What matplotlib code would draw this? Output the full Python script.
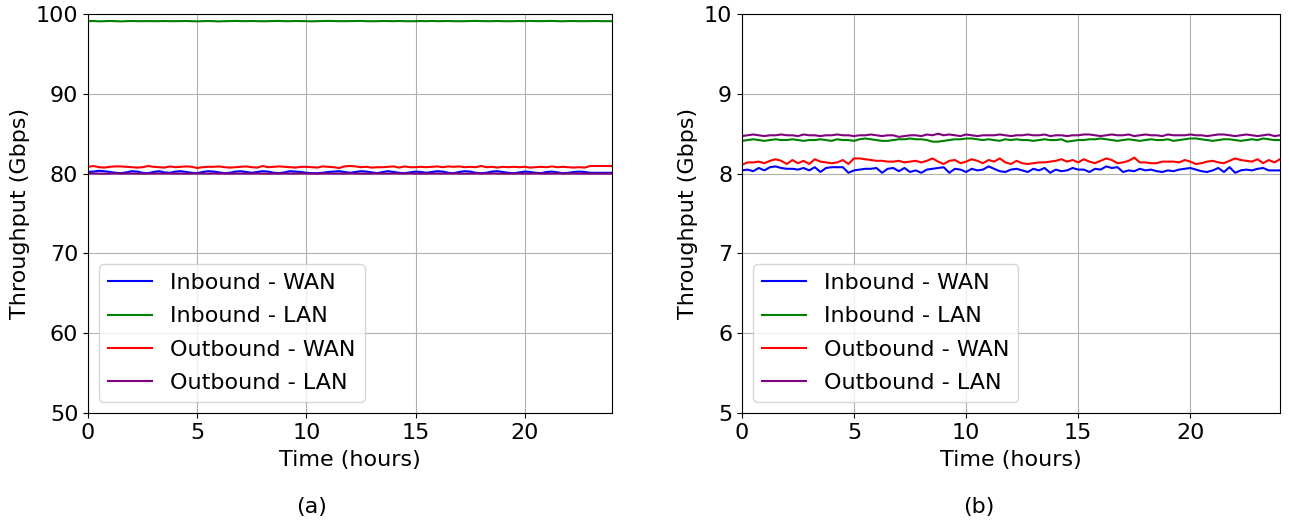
import matplotlib
matplotlib.use('Agg')
import matplotlib.pyplot as plt
import numpy as np

labels = ['Inbound - WAN', 'Inbound - LAN', 'Outbound - WAN', 'Outbound - LAN']
colors = ['blue', 'green', 'red', 'purple']

# (a) throughput, Gbps, sampled every 15 min over 24 h
a_in_wan = [80.2, 80.25, 80.35, 80.3, 80.2, 80.1, 80.05, 80.15, 80.3, 80.25, 80.1, 80.05, 80.2, 80.3, 80.15, 80.1,
            80.25, 80.3, 80.2, 80.1, 80.05, 80.2, 80.3, 80.25, 80.15, 80.05, 80.1, 80.25, 80.3, 80.2, 80.1, 80.2,
            80.3, 80.25, 80.1, 80.05, 80.15, 80.3, 80.25, 80.2, 80.1, 80.05, 80.05, 80.1, 80.2, 80.25, 80.3, 80.2,
            80.1, 80.2, 80.3, 80.25, 80.15, 80.05, 80.2, 80.3, 80.2, 80.1, 80.05, 80.15, 80.25, 80.2, 80.1, 80.2,
            80.3, 80.25, 80.1, 80.05, 80.2, 80.3, 80.25, 80.1, 80.05, 80.1, 80.25, 80.3, 80.2, 80.1, 80.05, 80.15,
            80.25, 80.2, 80.1, 80.05, 80.2, 80.25, 80.15, 80.05, 80.1, 80.2, 80.25, 80.2, 80.1, 80.1, 80.1, 80.1, 80.1]
a_in_lan = [99.1, 99.12, 99.08, 99.1, 99.13, 99.1, 99.07, 99.1, 99.12, 99.1, 99.1, 99.11, 99.1, 99.1, 99.12, 99.1,
            99.1, 99.11, 99.12, 99.1, 99.08, 99.1, 99.12, 99.1, 99.07, 99.1, 99.11, 99.13, 99.11, 99.1, 99.12, 99.1,
            99.09, 99.1, 99.12, 99.13, 99.1, 99.1, 99.12, 99.11, 99.1, 99.08, 99.1, 99.12, 99.13, 99.12, 99.1, 99.1,
            99.11, 99.12, 99.13, 99.1, 99.09, 99.1, 99.12, 99.11, 99.1, 99.12, 99.1, 99.09, 99.1, 99.12, 99.1, 99.13,
            99.1, 99.11, 99.12, 99.1, 99.09, 99.1, 99.12, 99.13, 99.11, 99.1, 99.1, 99.12, 99.1, 99.09, 99.1, 99.12,
            99.1, 99.13, 99.11, 99.1, 99.12, 99.13, 99.1, 99.09, 99.11, 99.12, 99.1, 99.1, 99.11, 99.12, 99.1, 99.1, 99.1]
a_out_wan = [80.85, 80.95, 80.8, 80.75, 80.85, 80.9, 80.9, 80.85, 80.8, 80.75, 80.8, 80.95, 80.85, 80.8, 80.75, 80.9,
             80.8, 80.85, 80.9, 80.85, 80.7, 80.8, 80.85, 80.85, 80.9, 80.8, 80.75, 80.8, 80.85, 80.9, 80.8, 80.75,
             80.95, 80.8, 80.85, 80.9, 80.85, 80.8, 80.75, 80.85, 80.85, 80.8, 80.75, 80.9, 80.85, 80.8, 80.7, 80.9,
             80.95, 80.9, 80.8, 80.85, 80.75, 80.8, 80.8, 80.85, 80.9, 80.75, 80.9, 80.8, 80.8, 80.85, 80.8, 80.85,
             80.9, 80.8, 80.9, 80.85, 80.9, 80.8, 80.85, 80.8, 80.95, 80.8, 80.85, 80.75, 80.85, 80.8, 80.85, 80.8,
             80.85, 80.75, 80.8, 80.85, 80.8, 80.9, 80.8, 80.85, 80.8, 80.75, 80.8, 80.75, 80.95, 80.95, 80.95, 80.95, 80.95]
a_out_lan = [80.0, 80.01, 80.0, 79.99, 80.0, 80.02, 80.0, 80.0, 80.01, 80.0, 79.99, 80.0, 80.0, 80.02, 80.0, 80.01,
             80.0, 80.0, 79.99, 80.0, 80.01, 80.0, 80.0, 80.02, 80.0, 80.0, 79.99, 80.0, 80.01, 80.0, 80.0, 80.02,
             80.0, 79.99, 80.0, 80.0, 80.01, 80.0, 80.0, 80.02, 80.0, 80.0, 79.99, 80.0, 80.01, 80.0, 80.0, 80.0,
             80.02, 80.0, 80.0, 79.99, 80.0, 80.01, 80.0, 80.0, 80.02, 80.0, 80.0, 80.01, 80.0, 79.99, 80.0, 80.0,
             80.01, 80.0, 80.0, 80.02, 80.0, 79.99, 80.0, 80.01, 80.0, 80.0, 80.02, 80.0, 80.0, 79.99, 80.0, 80.01,
             80.0, 80.0, 80.02, 80.0, 79.99, 80.0, 80.01, 80.0, 80.0, 80.02, 80.0, 80.0, 79.99, 80.0, 80.0, 80.0, 80.0]

# (b)
b_in_wan = [8.04, 8.05, 8.03, 8.07, 8.04, 8.08, 8.09, 8.07, 8.06, 8.06, 8.05, 8.07, 8.04, 8.08, 8.02, 8.07,
            8.08, 8.08, 8.08, 8.01, 8.04, 8.05, 8.06, 8.06, 8.07, 8.01, 8.06, 8.07, 8.03, 8.07, 8.02, 8.04,
            8.01, 8.05, 8.06, 8.07, 8.08, 8.01, 8.06, 8.05, 8.02, 8.06, 8.04, 8.05, 8.09, 8.06, 8.03, 8.02,
            8.05, 8.06, 8.04, 8.02, 8.06, 8.04, 8.07, 8.01, 8.05, 8.03, 8.04, 8.07, 8.05, 8.05, 8.02, 8.06,
            8.05, 8.09, 8.07, 8.08, 8.02, 8.04, 8.03, 8.06, 8.04, 8.05, 8.03, 8.02, 8.04, 8.03, 8.05, 8.06,
            8.07, 8.05, 8.03, 8.02, 8.04, 8.07, 8.02, 8.08, 8.01, 8.04, 8.05, 8.04, 8.06, 8.07, 8.04, 8.04, 8.04]
b_in_lan = [8.41, 8.42, 8.43, 8.42, 8.41, 8.42, 8.43, 8.42, 8.42, 8.43, 8.42, 8.41, 8.42, 8.42, 8.43, 8.42,
            8.41, 8.43, 8.42, 8.42, 8.41, 8.43, 8.44, 8.43, 8.42, 8.41, 8.41, 8.42, 8.43, 8.43, 8.44, 8.43,
            8.43, 8.42, 8.40, 8.40, 8.41, 8.42, 8.43, 8.43, 8.44, 8.44, 8.43, 8.42, 8.43, 8.42, 8.41, 8.43,
            8.42, 8.43, 8.42, 8.42, 8.41, 8.42, 8.43, 8.42, 8.42, 8.43, 8.40, 8.41, 8.42, 8.42, 8.43, 8.43,
            8.44, 8.43, 8.42, 8.41, 8.42, 8.43, 8.42, 8.41, 8.42, 8.43, 8.42, 8.42, 8.43, 8.41, 8.42, 8.43,
            8.44, 8.44, 8.43, 8.42, 8.41, 8.42, 8.43, 8.43, 8.42, 8.41, 8.42, 8.43, 8.42, 8.44, 8.43, 8.42, 8.42]
b_out_wan = [8.11, 8.14, 8.14, 8.15, 8.13, 8.16, 8.18, 8.16, 8.12, 8.17, 8.13, 8.16, 8.12, 8.18, 8.15, 8.14,
             8.13, 8.14, 8.17, 8.12, 8.19, 8.19, 8.18, 8.17, 8.16, 8.16, 8.15, 8.15, 8.16, 8.14, 8.15, 8.16,
             8.14, 8.16, 8.19, 8.15, 8.12, 8.16, 8.17, 8.13, 8.15, 8.18, 8.16, 8.13, 8.17, 8.15, 8.19, 8.14,
             8.12, 8.16, 8.13, 8.12, 8.13, 8.14, 8.14, 8.15, 8.16, 8.18, 8.15, 8.17, 8.14, 8.18, 8.15, 8.13,
             8.16, 8.19, 8.17, 8.13, 8.14, 8.16, 8.20, 8.14, 8.14, 8.13, 8.13, 8.15, 8.15, 8.15, 8.14, 8.17,
             8.15, 8.12, 8.13, 8.15, 8.16, 8.14, 8.13, 8.16, 8.19, 8.17, 8.16, 8.15, 8.18, 8.13, 8.17, 8.14, 8.18]
b_out_lan = [8.47, 8.48, 8.49, 8.48, 8.47, 8.48, 8.48, 8.49, 8.48, 8.48, 8.47, 8.49, 8.48, 8.48, 8.47, 8.48,
             8.48, 8.49, 8.48, 8.48, 8.47, 8.48, 8.48, 8.49, 8.48, 8.47, 8.48, 8.48, 8.46, 8.47, 8.48, 8.48,
             8.47, 8.49, 8.48, 8.50, 8.48, 8.49, 8.48, 8.47, 8.49, 8.48, 8.47, 8.48, 8.48, 8.48, 8.49, 8.48,
             8.47, 8.48, 8.48, 8.49, 8.48, 8.48, 8.49, 8.47, 8.48, 8.48, 8.47, 8.48, 8.48, 8.49, 8.49, 8.48,
             8.47, 8.48, 8.49, 8.48, 8.48, 8.49, 8.47, 8.48, 8.49, 8.48, 8.48, 8.47, 8.49, 8.48, 8.48, 8.48,
             8.49, 8.48, 8.48, 8.47, 8.48, 8.49, 8.49, 8.48, 8.47, 8.48, 8.49, 8.48, 8.47, 8.48, 8.49, 8.47, 8.48]

fs = 16
fig = plt.figure(figsize=(12.89, 5.2), dpi=100)
ax1 = fig.add_axes([0.0683, 0.2058, 0.4065, 0.7673])
ax2 = fig.add_axes([0.5756, 0.2058, 0.4174, 0.7673])

panels = [(ax1, [a_in_wan, a_in_lan, a_out_wan, a_out_lan], (50, 100), '(a)', 0.242),
          (ax2, [b_in_wan, b_in_lan, b_out_wan, b_out_lan], (5, 10), '(b)', 0.759)]

for ax, series, ylim, cap, cx in panels:
    for vals, lab, c in zip(series, labels, colors):
        t = np.linspace(0, 24, len(vals))
        ax.plot(t, vals, color=c, label=lab, linewidth=1.5)
    ax.set_xlim(0, 24)
    ax.set_ylim(*ylim)
    ax.set_xticks([0, 5, 10, 15, 20])
    ax.grid(True)
    ax.tick_params(labelsize=fs)
    ax.set_xlabel('Time (hours)', fontsize=fs, labelpad=5)
    ax.set_ylabel('Throughput (Gbps)', fontsize=fs)
    ax.legend(loc='lower left', fontsize=fs, labelspacing=0.6)
    fig.text(cx, 0.025, cap, ha='center', va='center', fontsize=fs)

fig.savefig('out.png', dpi=100)
